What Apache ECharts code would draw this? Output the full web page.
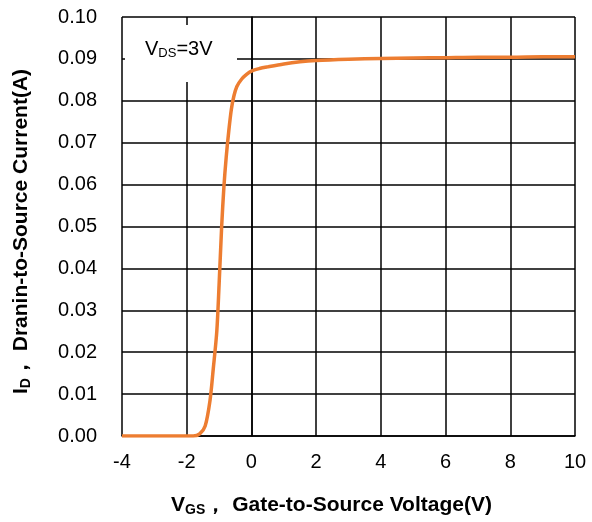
<!DOCTYPE html>
<html>
<head>
<meta charset="utf-8">
<script src="https://cdn.jsdelivr.net/npm/echarts@6/dist/echarts.min.js"></script>
<style>
html,body{margin:0;padding:0;background:#fff;}
#chart{width:592px;height:522px;}
</style>
</head>
<body>
<div id="chart"></div>
<script>
// Gate-source voltage (V)
const vgs = [-4,-3,-2,-1.8,-1.6,-1.43,-1.28,-1.18,-1.07,-1.0,-0.92,-0.85,-0.78,-0.7,-0.62,-0.54,-0.45,-0.3,-0.15,0,0.25,0.5,1,1.5,2,3,4,5,6,7,8,9,10];
// Drain current (A)
const idCurrent = [0,0,0,0,0.0005,0.0024,0.0085,0.0160,0.0250,0.036,0.050,0.0595,0.0665,0.0728,0.0780,0.0812,0.0834,0.0852,0.0863,0.0871,0.0877,0.0881,0.0888,0.0893,0.0896,0.0899,0.0901,0.0902,0.0903,0.0904,0.0904,0.0905,0.0905];
const xTicks = [-4,-2,0,2,4,6,8,10];
const yTicks = [0,0.01,0.02,0.03,0.04,0.05,0.06,0.07,0.08,0.09,0.10];

const FONT = 'Liberation Sans, Arial';
const chart = echarts.init(document.getElementById('chart'));
const lineStyle = {color:'#000', width:1.5};
const nameRich = {
  v:{fontFamily:FONT, fontWeight:'bold', fontSize:21, color:'#000'},
  s:{fontFamily:FONT, fontWeight:'bold', fontSize:14, color:'#000', verticalAlign:'bottom', padding:[9,0,0,0]},
  t:{fontFamily:FONT, fontWeight:'bold', fontSize:21, color:'#000'}
};
chart.setOption({
  animation:false,
  grid:{left:122, right:17, top:17, bottom:85},
  xAxis:{
    type:'value', min:xTicks[0], max:xTicks[xTicks.length-1], interval:2,
    axisLine:{show:true, onZero:false, lineStyle:lineStyle},
    axisTick:{show:false},
    splitLine:{show:true, lineStyle:lineStyle},
    axisLabel:{color:'#000', fontFamily:FONT, fontSize:20, margin:16},
    name:'{v|V}{s|GS}{t|， Gate-to-Source Voltage(V)}',
    nameLocation:'middle', nameGap:58,
    nameTextStyle:{rich:nameRich, padding:[0,34,0,0]}
  },
  yAxis:{
    type:'value', min:yTicks[0], max:yTicks[yTicks.length-1], interval:0.01,
    axisLine:{show:true, lineStyle:lineStyle},
    axisTick:{show:false},
    splitLine:{show:true, lineStyle:lineStyle},
    axisLabel:{color:'#000', fontFamily:FONT, fontSize:20, margin:25,
      formatter:v=>v.toFixed(2)},
    name:'{v|I}{s|D}{t|， Dranin-to-Source Current(A)}',
    nameLocation:'middle', nameGap:89,
    nameTextStyle:{rich:nameRich, padding:[0,10,0,0]}
  },
  graphic:[
    {type:'rect', shape:{x:125, y:25, width:112, height:57}, style:{fill:'#fff'}, z:50},
    {type:'text', x:145, y:38, z:51, style:{
      text:'{v|V}{s|DS}{v|=3V}',
      rich:{
        v:{fontFamily:FONT, fontSize:20, fill:'#000'},
        s:{fontFamily:FONT, fontSize:13, fill:'#000', padding:[9,0,0,0]}
      }
    }}
  ],
  series:[{
    type:'line',
    data:vgs.map((v,i)=>[v,idCurrent[i]]),
    showSymbol:false,
    smooth:0.3,
    lineStyle:{color:'#ED7D31', width:3.5},
    z:10
  }]
});
</script>
</body>
</html>
